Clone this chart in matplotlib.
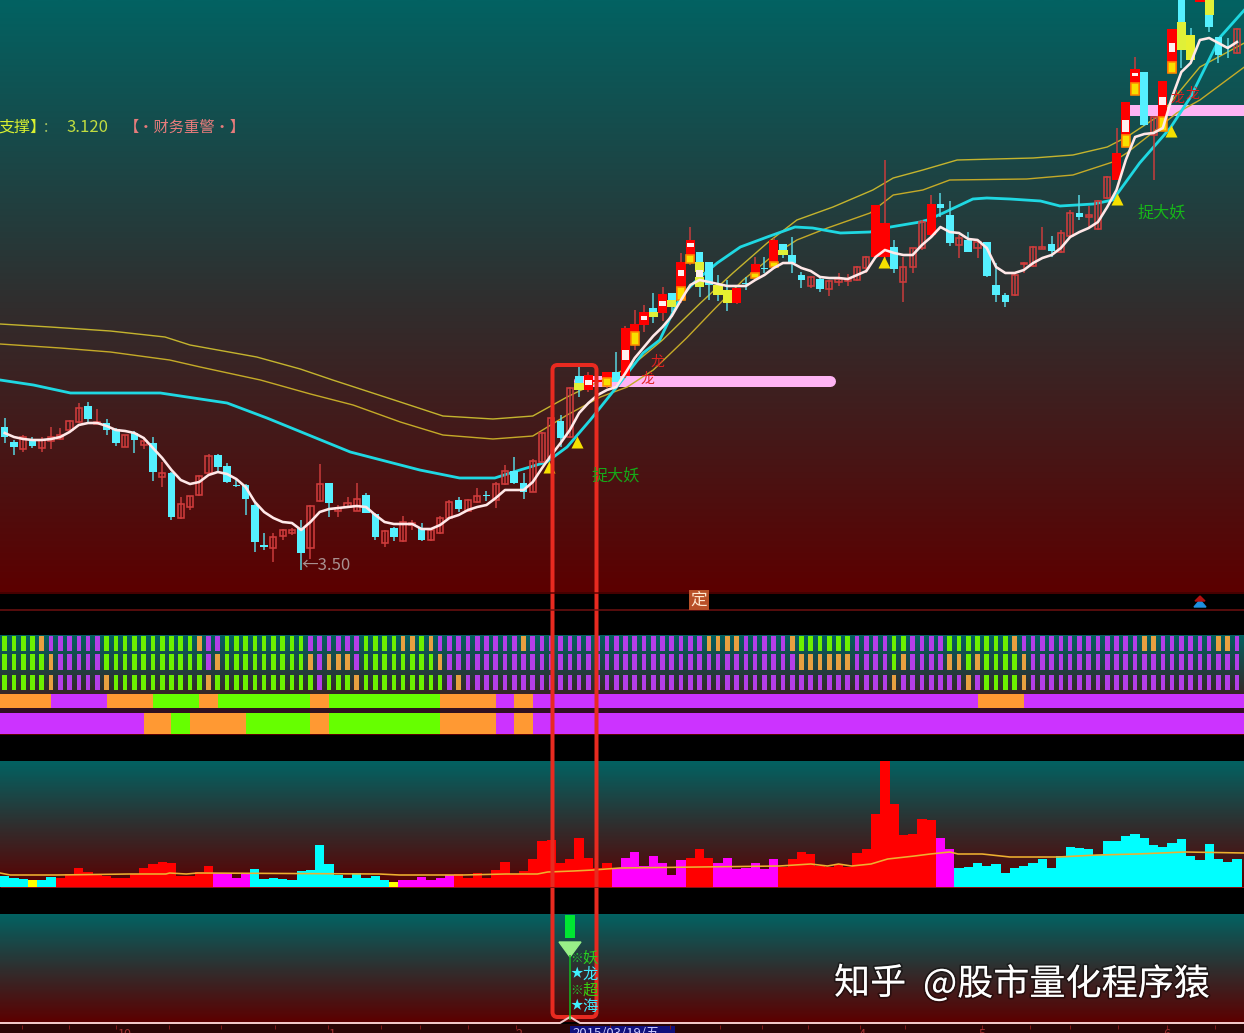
import matplotlib
matplotlib.use('Agg')
import matplotlib.pyplot as plt
import matplotlib.patheffects as pe
from matplotlib.colors import LinearSegmentedColormap
from matplotlib.patches import FancyBboxPatch, Polygon, Rectangle
import numpy as np

plt.rcParams['font.family'] = ['Noto Sans CJK SC', 'DejaVu Sans']

W, H = 1244, 1033
BAR_PX = 9.265
BAR_LEFT = -4.7 / BAR_PX
BAR_RIGHT = (W - 4.7) / BAR_PX

# candles (panel units, axis runs downwards)
body_top = [427,442,437,439,440,437,435,421,408,406,
            422,423,429,435,433,441,443,473,473,504,
            496,476,456,455,466,485,485,505,545,537,
            530,530,528,506,484,483,508,503,499,495,
            514,531,528,522,523,528,530,518,502,500,
            500,496,495,484,471,471,483,461,433,418,
            421,388,376,375,380,372,372,328,324,312,
            308,294,293,262,240,252,262,285,290,288,
            283,264,268,240,244,255,275,277,279,281,
            279,279,267,257,205,223,247,267,248,222,
            204,204,215,238,240,242,242,285,295,275,
            263,247,247,244,233,213,213,215,201,177,
            153,102,69,72,117,81,29,-5,35,-5,
            -5,37,46,29]
body_bot = [437,447,449,446,448,441,439,430,422,419,
            424,430,443,447,440,445,472,477,517,518,
            507,495,473,467,482,486,499,542,547,548,
            536,533,553,548,501,503,511,507,511,513,
            537,543,537,541,525,540,540,533,518,509,
            511,502,496,500,484,483,492,492,462,457,
            438,437,390,390,382,378,382,376,345,325,
            317,313,307,300,263,287,285,295,303,303,
            284,278,269,267,255,263,280,286,289,289,
            282,281,280,268,257,257,269,282,267,248,
            235,208,243,245,252,248,276,295,302,295,
            264,266,249,251,252,236,217,217,229,198,
            180,147,95,125,135,131,73,50,60,2,
            27,55,47,53]
wick_top = [418,440,435,437,437,427,428,420,403,402,
            409,419,428,435,431,437,437,462,472,497,
            496,475,454,454,463,480,484,503,533,533,
            529,528,520,505,464,483,505,497,483,493,
            513,530,527,516,520,523,528,516,500,497,
            499,488,491,482,465,457,473,459,432,417,
            415,387,367,372,380,372,352,326,310,305,
            293,287,293,253,227,252,262,275,280,288,
            277,257,257,238,244,237,272,276,278,280,
            273,274,266,256,205,160,240,257,248,220,
            195,193,201,235,232,242,242,263,293,274,
            262,246,227,236,230,210,195,206,200,176,
            128,102,57,72,117,81,29,-5,28,-5,
            -5,37,38,28]
wick_bot = [443,455,452,448,452,449,440,431,423,422,
            425,435,446,447,453,449,481,487,520,519,
            510,496,473,471,483,487,515,552,550,562,
            540,535,570,559,502,517,517,508,511,513,
            540,547,541,542,530,541,541,534,519,512,
            512,503,501,508,485,484,499,492,463,458,
            447,438,397,392,382,388,382,378,350,332,
            323,321,312,303,265,297,300,301,311,304,
            290,279,273,268,258,273,288,288,292,296,
            286,286,281,273,258,267,273,302,273,250,
            237,217,246,258,252,258,277,302,307,296,
            273,267,249,257,253,237,220,227,230,199,
            180,147,95,126,180,131,73,68,60,2,
            32,63,58,54]
candle_kind = ("ddudu" "uuuud" "uddud" "ududu" "uuudd" "ddddu" "uuduu" "duuud"
               "duduu" "duuud" "uuduu" "dduuu" "dudRR" "RdRRR" "dRdRR" "ddyyR"
               "dRdRd" "ddudu" "uuuuR" "Rduuu" "Rddud" "udddu" "uuudu" "uduuu"
               "RRRdu" "RRdyR" "dddu")

yellow_bar = [62,65,68,70,72,73,74,75,75,81,83,84,121,122,125,126,127,130]
yellow_top = [383,378,332,312,300,287,255,262,277,273,262,250,135,83,117,62,22,0]
yellow_bot = [390,386,345,317,307,300,263,272,287,278,267,255,147,95,131,73,50,15]
stripe_bar = [63,67,69,71,73,74,75,121,122,125,126]
stripe_top = [380,350,316,301,270,243,270,120,73,97,43]
stripe_bot = [385,360,320,306,276,247,277,132,76,105,52]

# moving averages
white_line = [433,437,439,440,440,439,437,432,425,423,
              423,426,430,431,433,438,448,458,470,480,
              484,482,475,472,474,479,487,502,512,518,
              522,523,530,522,512,509,508,507,506,507,
              515,522,524,524,524,529,529,525,518,515,
              510,507,505,498,490,490,490,482,468,455,
              443,430,413,403,395,390,387,373,358,347,
              336,327,316,300,285,280,282,284,286,286,
              286,280,275,268,263,263,268,271,277,278,
              278,279,275,271,257,250,253,255,255,245,
              237,227,232,233,239,240,248,267,273,273,
              270,263,258,255,248,237,232,228,222,207,
              190,160,137,134,133,128,97,72,63,40,
              38,43,48,42]
cyan_bar = [-0.5,3.1,7.1,16.8,24,28.3,37.3,44.8,49.1,52.9,54.9,58.5,60.7,63.2,66.4,
            68.9,70.7,72.9,74.7,76.9,79.4,82.3,85.3,87.2,90.2,93.4,95.6,98.8,99.6,
            101.3,104.5,106,108.5,111.8,113.9,117.5,119.6,122.5,125.8,128,131.2,133.8]
cyan_val = [380,385,393,393,403,418,452,470,478,478,472,462,447,420,383,
            353,340,297,280,263,247,237,227,228,233,232,227,222,220,
            213,199,198,199,201,206,204,200,163,128,97,37,10]
upper_bar = [-0.5,4.9,11.4,17.3,20,27.2,31.9,35.4,42.7,47.3,52.7,57,60.7,62.9,67.5,71,
             75.1,78.6,82.3,85.5,89.4,93.7,95.9,99.1,102.8,111,115.3,119,121.1,124.7,129,133.8]
upper_val = [324,327,331,337,345,357,369,380,402,416,419,416,397,387,367,340,
             303,273,243,220,207,190,178,170,160,158,155,147,137,115,67,43]
lower_bar = [-0.5,6,11.4,17.8,21.1,27.6,33,37.6,42.7,47.3,52.7,57,60.7,64.3,67.2,70,73.6,
             76.5,79.7,83,85.5,88.8,93.4,95.9,99.1,102,110.3,115.3,119.6,121.1,123.3,126.5,129,133.8]
lower_val = [344,348,352,360,367,380,394,405,422,435,439,436,415,397,387,370,338,
             310,280,255,240,228,213,195,190,180,179,175,162,153,137,113,100,67]

triangle_bar = [58.8,61.8,94.9,120,125.9]
triangle_val = [467,442,262,199,131]
pink_from = [62.0,121.5]
pink_to = [89.1,133.8]
pink_val = [381,110]

# signal rows, one letter per bar
row1 = ("G"*4+"O"+"P"*6+"G"*10+"O"+"P"*2+"G"*9+"P"*6+"G"*4+"O"*2+"G"+"O"+"P"*9+"O"+"P"*19
        +"O"*4+"P"*5+"O"+"G"*6+"P"*4+"G"*2+"P"*4+"G"*7+"O"+"P"*13+"O"*2+"P"*6+"O"*2+"P")
row2 = ("G"*5+"O"+"P"*5+"G"*11+"P"+"O"+"G"*9+"O"+"P"+"O"*3+"P"+"G"*8+"O"+"P"*38
        +"O"*6+"P"*4+"G"+"O"+"P"*4+"O"*2+"G"+"O"+"G"*4+"O"+"P"*23)
row3 = ("G"*5+"O"+"P"*5+"O"+"G"*10+"O"+"G"*11+"P"+"G"*3+"O"+"G"*9+"P"+"O"+"P"*46
        +"O"+"P"*7+"O"+"P"+"G"*4+"O"+"P"*23)
band4_edges = [-0.5,5,11,16,21,23,33,35,47,53,55,57,105,110,134]
band4_kinds = "OPOGOGOGOPOPOP"
band5_edges = [-0.5,15,18,20,26,33,35,47,53,55,57,134]
band5_kinds = "POGOGOGOPOP"

# volume
volume = [11,9,8,7,7,10,9,13,19,15,13,11,9,9,13,19,23,25,24,11,
          11,15,21,14,14,9,13,18,8,9,8,7,16,17,42,23,12,9,14,9,
          11,7,5,7,7,10,7,9,12,13,9,14,9,17,25,13,16,28,46,47,
          24,28,49,29,19,24,19,29,35,21,31,24,12,27,29,38,29,24,29,18,
          19,24,18,28,20,28,35,33,21,20,23,20,34,38,73,126,83,52,53,68,
          67,49,38,19,20,24,21,23,14,19,21,24,28,19,31,40,39,38,32,46,
          46,51,53,49,42,40,44,48,31,27,43,28,25,28]
volume_kind = ("c"*3+"y"+"c"*2+"r"*17+"m"*4+"c"*15+"y"+"m"*6+"r"*17+"m"*8+"r"*3
               +"m"*7+"r"*17+"m"*2+"c"*31)
volume_ma_bar = [-0.5,0.6,5.6,13.5,17.4,17.8,19.6,20.8,40.4,42.6,49.4,54.1,57.5,58.6,61.4,63.5,66.4,
                 75,83.6,87,88.8,90,91.4,93.5,95.3,98.2,99.9,102,102.9,105.5,108.5,113.7,117.9,122.2,127.4,133.8]
volume_ma = [14,12,12,13,13,14,13,14,13,12,12,13,13,15,16,17,19,
             20,21,23,21,23,21,23,28,31,33,35,33,33,30,30,32,33,35,34]

signal_bar = [61]
signal_top = [915]
signal_bot = [938]
signal_marks = ['※','★','※','★']
signal_words = ['妖','龙','超','海']
signal_y = [958,974,990,1006]
signal_colors = ['#22c832','#40f0ff','#22c832','#40f0ff']
word_colors = ['#28d020','#40e8ff','#38d010','#40e8ff']

axis_ticks = [22,69,116,169,221,275,328,381,420,468,516,610,670,720,762,808,860,905,982,1030,1070,1118,1167,1215]
axis_labels = ['10','1','2','4','5','6']
axis_label_x = [125,332,519,862,982,1167]

teal_dark_red = LinearSegmentedColormap.from_list('bg', ['#026262', '#2f2f2f', '#5c0000'])
colors_row = {'G': '#6cf000', 'O': '#e8a040', 'P': '#b43ee8'}
colors_band = {'G': '#66ff00', 'O': '#ff9933', 'P': '#cc33ff'}
colors_vol = {'c': '#00ffff', 'y': '#ffff00', 'r': '#ff0000', 'm': '#ff00ff'}


def panel(top, bottom, gradient=True):
    ax = fig.add_axes([0, 1 - bottom / H, 1, (bottom - top) / H])
    if gradient:
        ax.imshow(np.linspace(0, 1, 256).reshape(-1, 1), cmap=teal_dark_red, aspect='auto',
                  extent=(0, 1, 0, 1), transform=ax.transAxes, zorder=0)
    ax.set_xlim(BAR_LEFT, BAR_RIGHT)
    ax.axis('off')
    return ax


fig = plt.figure(figsize=(W / 100, H / 100), dpi=100, facecolor='black')
px = 0.72  # one pixel in points

# main price panel
ax = panel(0, 592)
ax.set_ylim(592, 0)
bars = np.arange(len(body_top))
for a, b, v in zip(pink_from, pink_to, pink_val):
    ax.plot([a, b], [v, v], color='#ffb4f4', lw=11 * px, solid_capstyle='round', zorder=1)
ax.plot(upper_bar, upper_val, color='#c4b42e', lw=1.4 * px, zorder=2)
ax.plot(lower_bar, lower_val, color='#c4aa28', lw=1.4 * px, zorder=2)
ax.plot(cyan_bar, cyan_val, color='#1fd8e2', lw=2.8 * px, zorder=2)

for i in bars:
    kind = candle_kind[i]
    wick = {'d': '#58d8e4', 'y': '#58d8e4'}.get(kind, '#cc3c3c')
    ax.vlines(i, wick_top[i], wick_bot[i], color=wick, lw=1.5 * px, zorder=3)
    height = max(body_bot[i] - body_top[i], 1)
    if kind == 'u':
        ax.bar(i, height, 0.66, bottom=body_top[i], facecolor='none',
               edgecolor='#d03c3c', lw=1.6 * px, zorder=3)
    elif kind == 'R':
        ax.bar(i, height, 1.0, bottom=body_top[i], color='#ff0000', lw=0, zorder=3)
    elif kind == 'y':
        ax.bar(i, height, 1.0, bottom=body_top[i], color='#e8f030', lw=0, zorder=3)
    else:
        ax.bar(i, height, 0.82, bottom=body_top[i], color='#55f0ff', lw=0, zorder=3)
for i, t, b in zip(yellow_bar, yellow_top, yellow_bot):
    if candle_kind[i] == 'R':
        ax.bar(i, b - t, 0.9, bottom=t, facecolor='#f8e000', edgecolor='#ff8a00', lw=1.6 * px, zorder=4)
    else:
        ax.bar(i, b - t, 1.0, bottom=t, color='#e0f038', lw=0, zorder=4)
for i, t, b in zip(stripe_bar, stripe_top, stripe_bot):
    ax.bar(i, b - t, 0.72, bottom=t, color='#fff0f0', lw=0, zorder=4)
ax.plot(bars, white_line, color='#ffe8e8', lw=2.6 * px, zorder=5)
ax.scatter(triangle_bar, triangle_val, marker='^', s=75, color='#f5e000', lw=0, zorder=6)
ax.set_xlim(BAR_LEFT, BAR_RIGHT)

# signal strips
ax2 = panel(635, 735)
ax2.set_ylim(735, 635)
for row, y0, y1 in zip([row1, row2, row3], [636, 654, 675], [651, 670, 690]):
    for i, k in enumerate(row):
        ax2.bar(i, y1 - y0, 0.5, bottom=y0, color=colors_row[k], lw=0)
ax2.axhspan(708, 713, color='#301020', lw=0)
for edges, kinds, y0, y1 in [(band4_edges, band4_kinds, 693.5, 708), (band5_edges, band5_kinds, 713, 734)]:
    for a, b, k in zip(edges[:-1], edges[1:], kinds):
        ax2.bar((a + b) / 2, y1 - y0, b - a, bottom=y0, color=colors_band[k], lw=0)
ax2.set_xlim(BAR_LEFT, BAR_RIGHT)

# volume
ax3 = panel(761, 887)
ax3.set_ylim(0, 126)
ax3.bar(np.arange(len(volume)), volume, 1.0, color=[colors_vol[k] for k in volume_kind], lw=0, zorder=2)
ax3.plot(volume_ma_bar, volume_ma, color='#eeb030', lw=1.6 * px, zorder=3)
ax3.set_xlim(BAR_LEFT, BAR_RIGHT)

# bottom signal panel
ax4 = panel(914, 1022)
ax4.set_ylim(1022, 914)
ax4.bar(signal_bar, [b - t for t, b in zip(signal_top, signal_bot)], 1.1, bottom=signal_top, color='#00e632', lw=0)
ax4.set_xlim(BAR_LEFT, BAR_RIGHT)

# overlay in picture coordinates for labels and frame
top = fig.add_axes([0, 0, 1, 1], zorder=10)
top.set_xlim(0, W)
top.set_ylim(H, 0)
top.axis('off')
top.patch.set_alpha(0)

top.hlines(592.5, 0, W, color='#5c0000', lw=1.5 * px)
top.hlines(610, 0, W, color='#701010', lw=1.5 * px)
top.hlines(886.5, 0, W, color='#8a1010', lw=1 * px)
top.text(699, 600, '定', color='#ffe8d0', fontsize=12, ha='center', va='center',
         bbox=dict(boxstyle='square,pad=0.08', fc='#b85028', ec='none'))
top.add_patch(Polygon([(1194, 607), (1200, 600), (1206, 607)], color='#1e90e0'))
top.add_patch(Polygon([(1195, 601), (1200, 596), (1205, 601)], color='#b01010'))

top.text(-2, 127, '支撑】', color='#d8f030', fontsize=11.5, va='center')
top.text(44, 127, ':', color='#a0c060', fontsize=11.5, va='center')
top.text(66, 127, '3.120', color='#c0dc40', fontsize=12, va='center')
top.text(124, 127, '【•财务重警•】', color='#e87c7c', fontsize=11, va='center')
top.text(592, 476, '捉大妖', color='#16a818', fontsize=11.6, va='center')
top.text(1138, 213, '捉大妖', color='#16b818', fontsize=11.6, va='center')
top.text(301, 566, '←3.50', color='#a89090', fontsize=12, va='center')
for x, y in [(647, 379), (657, 362), (1177, 98), (1192, 94)]:
    top.text(x, y, '龙', color='#e02020', fontsize=10, ha='center', va='center')

# bottom axis strip
top.add_patch(Rectangle((0, 1024), W, 9, color='#2a0505', lw=0))
top.plot([0, 560, 570, 580, W], [1023, 1023, 1017, 1023, 1023], color='#f0c8c8', lw=2 * px)
top.vlines(axis_ticks, 1025, 1029, color='#801818', lw=1 * px)
for x, s in zip(axis_label_x, axis_labels):
    top.text(x, 1028, s, color='#a03030', fontsize=9, ha='center', va='top', clip_on=True)
top.add_patch(Rectangle((570, 1026), 105, 8, color='#10107c', lw=0))
top.text(572, 1027, '2015/03/19/五', color='#c8c8ff', fontsize=9.5, va='top', clip_on=True)

# bottom panel signals
top.add_patch(Polygon([(559, 942), (581, 942), (570, 957)], color='#98f088'))
top.vlines(570, 955, 1020, color='#10c020', lw=1.5 * px)
for y, m, w, c, wc in zip(signal_y, signal_marks, signal_words, signal_colors, word_colors):
    top.text(577, y, m, color=c, fontsize=9, ha='center', va='center')
    top.text(590, y, w, color=wc, fontsize=11, ha='center', va='center')

# red selection frame
top.add_patch(FancyBboxPatch((552.5, 365), 44, 652, boxstyle='round,pad=0,rounding_size=5',
                             fill=False, ec='#e82a20', lw=4 * px))

# watermark
shadow = [pe.withStroke(linewidth=2.5, foreground='#00000060')]
top.text(834, 984, '知乎', color='white', fontsize=26, weight='medium', va='center', path_effects=shadow)
top.text(923, 984, '@股市量化程序猿', color='white', fontsize=26, weight='medium', va='center', path_effects=shadow)

fig.savefig('out.png', dpi=100, facecolor='black')
